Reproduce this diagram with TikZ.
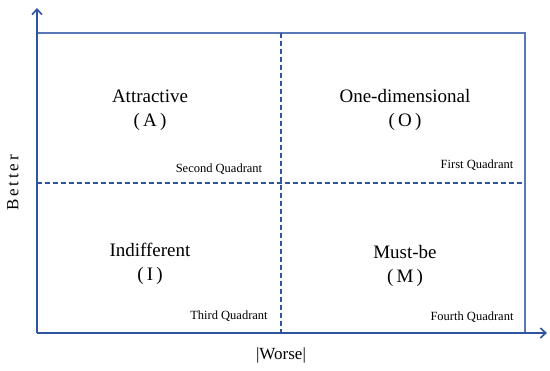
\documentclass[tikz,border=0pt]{standalone}
\usepackage{fontspec}
\setmainfont{Liberation Serif}
\usetikzlibrary{arrows.meta}
\definecolor{axisblue}{HTML}{2F55A0}
\definecolor{boxblue}{HTML}{5A78B8}
\begin{document}
\begin{tikzpicture}[x=1pt,y=-1pt,
  axisline/.style={draw=axisblue,line width=1.8pt,-{Straight Barb[length=5.5pt,width=10pt,line width=1.6pt]}},
  boxline/.style={draw=boxblue,line width=1.3pt},
  divline/.style={draw=axisblue,line width=1.6pt,dash pattern=on 5pt off 3pt},
  big/.style={font=\fontsize{19}{24}\selectfont,align=center,inner sep=0pt},
  quad/.style={font=\fontsize{12.5}{14}\selectfont,inner sep=0pt},
  axlabel/.style={font=\fontsize{17}{20}\selectfont,inner sep=0pt}]
\useasboundingbox (0,0) rectangle (550,371);
\coordinate (O) at (37,333);
\coordinate (ytip) at (37,8);
\coordinate (xtip) at (547,333);
\coordinate (TL) at (37,33);
\coordinate (TR) at (525,33);
\coordinate (BR) at (525,333);
\coordinate (ML) at (37,183);
\coordinate (MR) at (525,183);
\coordinate (MT) at (281,33);
\coordinate (MB) at (281,333);
\draw[boxline] (TL) -- (TR) -- (BR);
\draw[divline] (ML) -- (MR);
\draw[divline] (MT) -- (MB);
\draw[axisline] (O) -- (ytip);
\draw[axisline] (O) -- (xtip);
\node[big] (A) at (150,110) {Attractive\\(\,A\,)};
\node[big] (Ob) at (405,110) {One-dimensional\\(\,O\,)};
\node[big] (I) at (150,264) {Indifferent\\(\,I\,)};
\node[big] (M) at (405,266) {Must-be\\(\,M\,)};
\node[quad] (q2) at (219,169) {Second Quadrant};
\node[quad] (q1) at (477,165) {First Quadrant};
\node[quad] (q3) at (229,316) {Third Quadrant};
\node[quad] (q4) at (472,317) {Fourth Quadrant};
\node[axlabel,rotate=90] (better) at (13,183) {B\,e\,t\,t\,e\,r};
\node[axlabel] (worse) at (281,355) {|Worse|};
\end{tikzpicture}
\end{document}
